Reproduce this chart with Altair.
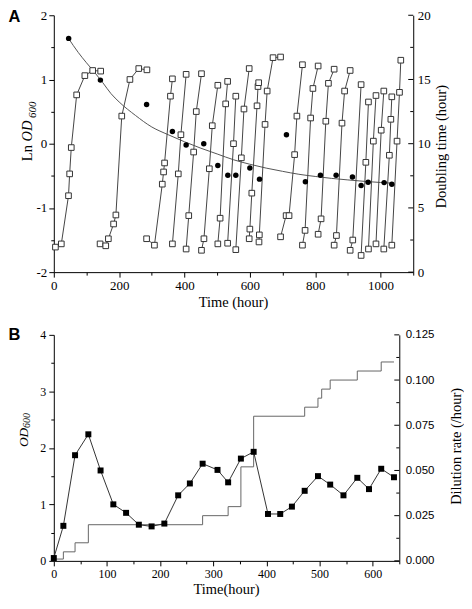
import altair as alt
import pandas as pd

SERIF = "Liberation Serif"
SANS = "Liberation Sans"

# ---------------- Panel A data ----------------
# growth runs: time (hour) and Ln OD600, one list per run
run_hours = [
    [5, 23, 45, 48.5, 53.5, 70, 95, 119, 143.5],
    [141.6, 159, 167, 183, 190, 208, 233, 260, 285],
    [284, 308, 332, 336, 339, 357, 363],
    [363, 381, 389, 405],
    [405, 413, 428, 436, 452],
    [452, 459.5, 476, 485, 502],
    [502, 509, 526, 532],
    [532, 550, 557],
    [557, 574, 582, 598],
    [598, 600, 606, 622, 625, 627],
    [628, 629, 646.5, 653, 671, 694],
    [694, 711, 720, 737, 744, 761],
    [761, 769, 786, 793, 809],
    [809, 818, 832.5, 840.5, 858],
    [858, 865, 882, 890, 907],
    [907, 915, 940.5],
    [940.5, 955, 963],
    [963, 978, 986],
    [986, 1002, 1010],
    [1010, 1027, 1031.5, 1034.5],
    [1034.5, 1050.5, 1058, 1062],
]
run_ln = [
    [-1.61, -1.56, -0.81, -0.47, -0.06, 0.76, 1.06, 1.14, 1.13],
    [-1.56, -1.59, -1.48, -1.25, -1.11, 0.43, 1.00, 1.17, 1.15],
    [-1.48, -1.58, -0.63, -0.44, -0.30, 0.74, 1.01],
    [-1.56, -0.47, 0.14, 1.08],
    [-1.64, -1.12, -0.13, 0.50, 1.09],
    [-1.66, -1.48, -0.39, 0.28, 0.91],
    [-1.56, -1.16, 0.62, 0.97],
    [-1.55, 0.00, 0.74],
    [-1.65, -0.22, 0.54, 1.17],
    [-1.48, -1.33, -0.77, 0.59, 0.89, 0.95],
    [-1.53, -1.42, 0.30, 0.82, 1.34, 1.35],
    [-1.45, -1.12, -1.12, -0.17, 0.43, 1.23],
    [-1.58, -1.35, 0.40, 0.86, 1.21],
    [-1.41, -1.17, 0.35, 0.94, 1.16],
    [-1.58, -1.43, 0.32, 0.82, 1.14],
    [-1.66, -1.50, 0.92],
    [-1.74, -0.29, 0.65],
    [-1.64, 0.04, 0.75],
    [-1.56, 0.21, 0.82],
    [-1.64, -0.18, 0.38, 0.73],
    [-1.58, 0.04, 0.80, 1.30],
]
# doubling time points (right axis)
dot_hours = [45.5, 142.6, 284, 363, 405, 459, 502, 532.6, 557, 600, 629.6,
             712, 770, 816, 864, 914, 940.5, 962, 1011, 1034.5]
dot_doubling = [18.2, 14.95, 13.05, 10.95, 9.9, 10.0, 8.3, 7.55, 7.55, 8.1, 7.24,
                10.7, 7.04, 7.55, 7.55, 7.4, 6.74, 7.0, 6.97, 6.84]
# fitted decay curve
fit_hours = [45, 75, 100, 125, 150, 175, 200, 250, 300, 350, 400, 450, 500,
             550, 600, 650, 700, 750, 800, 850, 900, 950, 1000, 1040]
fit_doubling = [18.2, 17.1, 16.3, 15.55, 14.75, 13.9, 13.25, 12.2, 11.3, 10.7,
                10.15, 9.65, 9.2, 8.75, 8.4, 8.1, 7.85, 7.62, 7.45, 7.3, 7.18,
                7.07, 6.98, 6.92]

A_X_TICKS = list(range(0, 1101, 100))
A_LEFT_TICKS = [-2, -1.5, -1, -0.5, 0, 0.5, 1, 1.5, 2]
A_RIGHT_MAJOR = [0, 5, 10, 15, 20]
A_RIGHT_MINOR = [2.5, 7.5, 12.5, 17.5]

# ---------------- Panel B data ----------------
b_hours = [0, 18, 40, 65, 88, 112, 136, 160, 184, 208, 234, 256, 280, 308,
           328, 352, 376, 403, 426, 448, 472, 497, 520, 545, 571, 593, 616, 640]
b_od = [0.05, 0.62, 1.87, 2.24, 1.60, 1.00, 0.85, 0.64, 0.61, 0.66, 1.16, 1.37,
        1.72, 1.61, 1.39, 1.81, 1.93, 0.83, 0.83, 0.96, 1.24, 1.50, 1.35, 1.16,
        1.47, 1.27, 1.63, 1.48]
dil_hours = [0, 18, 40, 65, 280, 328, 352, 376, 472, 497, 504, 520, 571, 616, 640]
dil_rate = [0.001, 0.005, 0.010, 0.020, 0.025, 0.030, 0.052, 0.080, 0.085,
            0.090, 0.095, 0.100, 0.105, 0.110, 0.110]

B_X_TICKS = list(range(0, 651, 50))
B_LEFT_TICKS = [0, 0.5, 1, 1.5, 2, 2.5, 3, 3.5, 4]
B_RIGHT_MAJOR = [0, 0.025, 0.05, 0.075, 0.1, 0.125]
B_RIGHT_MINOR = [0.0125, 0.0375, 0.0625, 0.0875, 0.1125]

# texts
PANEL_A, PANEL_B = "A", "B"
TITLE_LN, TITLE_OD, TITLE_SUB = "Ln", "OD", "600"
TITLE_TIME_A = "Time (hour)"
TITLE_TIME_B = "Time(hour)"
TITLE_DOUBLING = "Doubling time (hour)"
TITLE_DILUTION = "Dilution rate (/hour)"

WA, HA = 361, 258
WB, HB = 347, 227

# ---------------- helpers ----------------
rows = []
for r, (hs, ls) in enumerate(zip(run_hours, run_ln)):
    for i, (h, l) in enumerate(zip(hs, ls)):
        rows.append({"run": r, "idx": i, "h": h, "ln": l})
runs_df = pd.DataFrame(rows)
dots_df = pd.DataFrame({"h": dot_hours, "d": dot_doubling})
fit_df = pd.DataFrame({"h": fit_hours, "d": fit_doubling})
b_df = pd.DataFrame({"h": b_hours, "od": b_od})
dil_df = pd.DataFrame({"h": dil_hours, "rate": dil_rate})


def label(text, x, y, size, angle=0, style="normal", weight="normal",
          font=SERIF, align="center", baseline="middle"):
    return alt.Chart(pd.DataFrame({"t": [text]})).mark_text(
        font=font, fontSize=size, fontStyle=style, fontWeight=weight,
        angle=angle, align=align, baseline=baseline, color="black"
    ).encode(text="t:N", x=alt.value(x), y=alt.value(y))


def inward_ticks(values, scale, width, length):
    return alt.Chart(pd.DataFrame({"v": values})).mark_rule(
        color="black", strokeWidth=1
    ).encode(
        y=alt.Y("v:Q", scale=scale, axis=None),
        x=alt.value(width - length), x2=alt.value(width),
    )


def tick_size(test):
    return {"condition": {"test": test, "value": 5}, "value": 3}


# ---------------- Panel A ----------------
xA_scale = alt.Scale(domain=[0, 1100], nice=False, zero=False)
lnA_scale = alt.Scale(domain=[-2, 2], nice=False, zero=False)
dA_scale = alt.Scale(domain=[0, 20], nice=False, zero=False)

xA_axis = alt.Axis(values=A_X_TICKS, title=None, grid=False, orient="bottom",
                   labelExpr="datum.value % 200 === 0 ? '' + datum.value : ''",
                   tickSize=tick_size("datum.value % 200 === 0"),
                   labelPadding=2, labelFont=SERIF, labelFontSize=13,
                   labelFlush=False, labelOverlap=False)
xA = alt.X("h:Q", scale=xA_scale, axis=xA_axis)

fit_line = alt.Chart(fit_df).mark_line(
    color="#555", strokeWidth=1, interpolate="monotone"
).encode(x=xA, y=alt.Y("d:Q", scale=dA_scale, axis=None))

run_lines = alt.Chart(runs_df).mark_line(color="#444", strokeWidth=1).encode(
    x=xA,
    y=alt.Y("ln:Q", scale=lnA_scale, axis=None),
    detail="run:N",
    order="idx:Q",
)

run_pts = alt.Chart(runs_df).mark_point(
    shape="square", filled=True, fill="white", stroke="#333",
    strokeWidth=1, size=32, opacity=1
).encode(
    x=xA,
    y=alt.Y("ln:Q", scale=lnA_scale, axis=alt.Axis(
        orient="left", values=A_LEFT_TICKS, title=None, grid=False,
        labelExpr="datum.value % 1 === 0 ? '' + datum.value : ''",
        tickSize=tick_size("datum.value % 1 === 0"),
        labelPadding=2, labelFont=SERIF, labelFontSize=13,
        labelFlush=False, labelOverlap=False)),
)

dots = alt.Chart(dots_df).mark_circle(size=30, color="black", opacity=1).encode(
    x=xA,
    y=alt.Y("d:Q", scale=dA_scale, axis=alt.Axis(
        orient="right", values=A_RIGHT_MAJOR + A_RIGHT_MINOR, title=None,
        grid=False, ticks=False,
        labelExpr="datum.value % 5 === 0 ? '' + datum.value : ''",
        labelPadding=4, labelFont=SERIF, labelFontSize=13,
        labelFlush=False, labelOverlap=False)),
)

ticksA_major = inward_ticks(A_RIGHT_MAJOR, dA_scale, WA, 5)
ticksA_minor = inward_ticks(A_RIGHT_MINOR, dA_scale, WA, 3)

textsA = [
    label(PANEL_A, -45.5, -6, 16.5, weight="bold", font=SANS, align="left",
          baseline="top"),
    label(TITLE_LN, -26, 138.5, 14.5, angle=270),
    label(TITLE_OD, -26, 116.3, 14.5, angle=270, style="italic"),
    label(TITLE_SUB, -20.8, 95, 11, angle=270, style="italic"),
    label(TITLE_TIME_A, WA / 2, HA + 31, 14.5),
    label(TITLE_DOUBLING, WA + 29, 132, 14.5, angle=270),
]

panelA = alt.layer(
    fit_line, run_lines, run_pts, dots, ticksA_major, ticksA_minor, *textsA
).resolve_scale(y="independent").properties(width=WA, height=HA)

# ---------------- Panel B ----------------
xB_scale = alt.Scale(domain=[0, 650], nice=False, zero=False)
odB_scale = alt.Scale(domain=[0, 4], nice=False, zero=False)
rB_scale = alt.Scale(domain=[0, 0.125], nice=False, zero=False)

xB_axis = alt.Axis(values=B_X_TICKS, title=None, grid=False, orient="bottom",
                   labelExpr="datum.value % 100 === 0 ? '' + datum.value : ''",
                   tickSize=tick_size("datum.value % 100 === 0"),
                   labelPadding=3, labelFont=SERIF, labelFontSize=12,
                   labelFlush=False, labelOverlap=False)
xB = alt.X("h:Q", scale=xB_scale, axis=xB_axis)

stairs = alt.Chart(dil_df).mark_line(
    color="#666", strokeWidth=1, interpolate="step-after"
).encode(
    x=xB,
    y=alt.Y("rate:Q", scale=rB_scale, axis=alt.Axis(
        orient="right", values=B_RIGHT_MAJOR + B_RIGHT_MINOR, title=None,
        grid=False, ticks=False,
        labelExpr="abs(datum.value / 0.025 - round(datum.value / 0.025)) < 0.001 ? format(datum.value, '.3f') : ''",
        labelPadding=6, labelFont=SANS, labelFontSize=11.5,
        labelFlush=False, labelOverlap=False)),
)

od_line = alt.Chart(b_df).mark_line(color="#333", strokeWidth=1).encode(
    x=xB, y=alt.Y("od:Q", scale=odB_scale, axis=None)
)

od_pts = alt.Chart(b_df).mark_point(
    shape="square", filled=True, color="black", size=36, opacity=1
).encode(
    x=xB,
    y=alt.Y("od:Q", scale=odB_scale, axis=alt.Axis(
        orient="left", values=B_LEFT_TICKS, title=None, grid=False,
        labelExpr="datum.value % 1 === 0 ? '' + datum.value : ''",
        tickSize=tick_size("datum.value % 1 === 0"),
        labelPadding=3, labelFont=SERIF, labelFontSize=12,
        labelFlush=False, labelOverlap=False)),
)

ticksB_major = inward_ticks(B_RIGHT_MAJOR, rB_scale, WB, 5)
ticksB_minor = inward_ticks(B_RIGHT_MINOR, rB_scale, WB, 3)

textsB = [
    label(PANEL_B, -45.5, -7.5, 16.5, weight="bold", font=SANS, align="left",
          baseline="top"),
    label(TITLE_OD, -30, 103, 13.5, angle=270, style="italic"),
    label(TITLE_SUB, -26.5, 86, 10, angle=270, style="italic"),
    label(TITLE_TIME_B, WB / 2, HB + 29, 14.5),
    label(TITLE_DILUTION, WB + 58, 112, 14.5, angle=270),
]

panelB = alt.layer(
    stairs, od_line, od_pts, ticksB_major, ticksB_minor, *textsB
).resolve_scale(y="independent").properties(width=WB, height=HB)

chart = alt.vconcat(
    panelA, panelB, spacing=63, bounds="flush", padding=0
).configure_view(stroke=None).configure_axis(
    domainColor="black", tickColor="black", labelColor="black",
    domainWidth=1, tickWidth=1, grid=False
)

chart.save("out.html", embed_options={"renderer": "svg", "actions": False})
